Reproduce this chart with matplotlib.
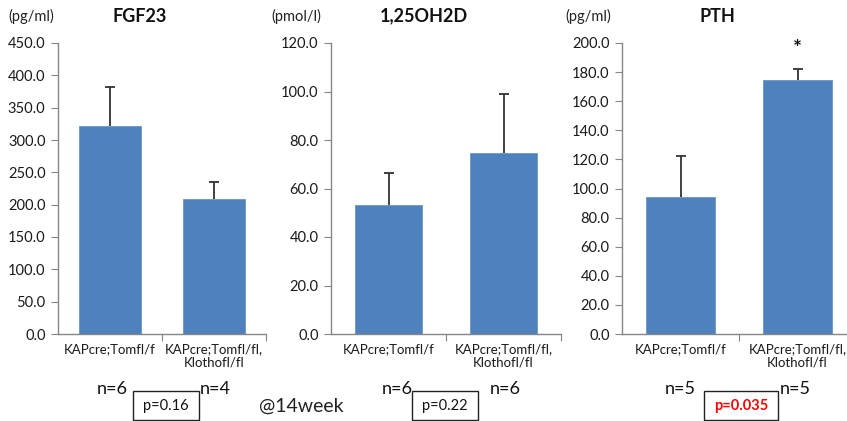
import numpy as np
import matplotlib.pyplot as plt
from matplotlib.patches import Rectangle
from matplotlib.ticker import FormatStrFormatter

plt.rcParams['font.family'] = ['Lato', 'DejaVu Sans']

groups = ["KAPcre;Tomfl/f", "KAPcre;Tomfl/fl,\nKlothofl/fl"]

fgf23_mean = [322.0, 208.0]
fgf23_err = [60.0, 27.0]
vitd_mean = [53.2, 74.6]
vitd_err = [13.0, 24.2]
pth_mean = [94.5, 174.5]
pth_err = [27.5, 7.5]

titles = ["FGF23", "1,25OH2D", "PTH"]
units = ["(pg/ml)", "(pmol/l)", "(pg/ml)"]
n_labels = [["n=6", "n=4"], ["n=6", "n=6"], ["n=5", "n=5"]]
p_labels = ["p=0.16", "p=0.22", "p=0.035"]

W, H = 847, 421
fig = plt.figure(figsize=(W / 100, H / 100), dpi=100)


def fx(px):
    return px / W


def fy(py):
    return 1 - py / H


bar_color = "#4F81BD"
spine_color = "#868686"

# axes boxes in pixels: left, right
boxes = [(58, 266), (331, 561), (622, 856)]
ylims = [(0, 450, 50), (0, 120, 20), (0, 200, 20)]
means = [fgf23_mean, vitd_mean, pth_mean]
errs = [fgf23_err, vitd_err, pth_err]

top_px, bot_px = 43, 334
axes = []
for i, (l, r) in enumerate(boxes):
    ax = fig.add_axes([fx(l), fy(bot_px), fx(r - l), (bot_px - top_px) / H])
    x = np.arange(2)
    ax.bar(x, means[i], width=0.59, color=bar_color, edgecolor="#6a95c8", linewidth=0.6, zorder=2)
    eb = ax.errorbar(x, means[i], yerr=[[0, 0], errs[i]], fmt="none", ecolor="#333333",
                     elinewidth=1.3, capsize=3.5, capthick=1.3, zorder=3)
    # only the upper cap is drawn
    eb[1][0].set_visible(False)
    lo, hi, step = ylims[i]
    ax.set_ylim(lo, hi)
    ax.set_yticks(np.arange(lo, hi + step / 2, step))
    ax.yaxis.set_major_formatter(FormatStrFormatter("%.1f"))
    ax.set_xlim(-0.5, 1.5)
    ax.set_xticks([0.5, 1.5])
    ax.set_xticklabels([])
    for s in ["top", "right"]:
        ax.spines[s].set_visible(False)
    for s in ["left", "bottom"]:
        ax.spines[s].set_color(spine_color)
        ax.spines[s].set_linewidth(1.0)
    ax.tick_params(axis="y", colors=spine_color, labelcolor="#1a1a1a", labelsize=10.5,
                   length=5, direction="out", pad=4)
    ax.tick_params(axis="x", colors=spine_color, length=5, direction="out")
    ax.patch.set_visible(False)
    for j, g in enumerate(groups):
        ax.text(j, -0.033, g, transform=ax.get_xaxis_transform(), ha="center", va="top",
                fontsize=9.5, color="#1a1a1a", linespacing=1.1)
    axes.append(ax)

# titles and units
title_x = [140, 424, 717]
unit_x = [8, 271, 565]
for i in range(3):
    fig.text(fx(title_x[i]), fy(16), titles[i], ha="center", va="center",
             fontsize=13, fontweight="bold", color="#111111")
    fig.text(fx(unit_x[i]), fy(16), units[i], ha="left", va="center",
             fontsize=10.5, color="#222222")

# n labels
n_x = [[112, 215], [397, 505], [680, 795]]
for i in range(3):
    for j in range(2):
        fig.text(fx(n_x[i][j]), fy(389), n_labels[i][j], ha="center", va="center",
                 fontsize=13, color="#111111")

# p value boxes
p_x = [166, 445, 741]
p_w = [66, 66, 74]
for i in range(3):
    red = i == 2
    fig.patches.append(Rectangle((fx(p_x[i] - p_w[i] / 2), fy(420)), fx(p_w[i]), 29 / H,
                                 transform=fig.transFigure, fc="white", ec="#222222", lw=1.0))
    fig.text(fx(p_x[i]), fy(406), p_labels[i], ha="center", va="center",
             fontsize=10.5, color="red" if red else "#111111",
             fontweight="bold" if red else "normal")

fig.text(fx(301), fy(406), "@14week", ha="center", va="center", fontsize=14, color="#222222")

# significance star
axes[2].text(1, 196, "*", ha="center", va="center", fontsize=15, fontweight="bold", color="#111111")

fig.savefig("out.png", dpi=100)
